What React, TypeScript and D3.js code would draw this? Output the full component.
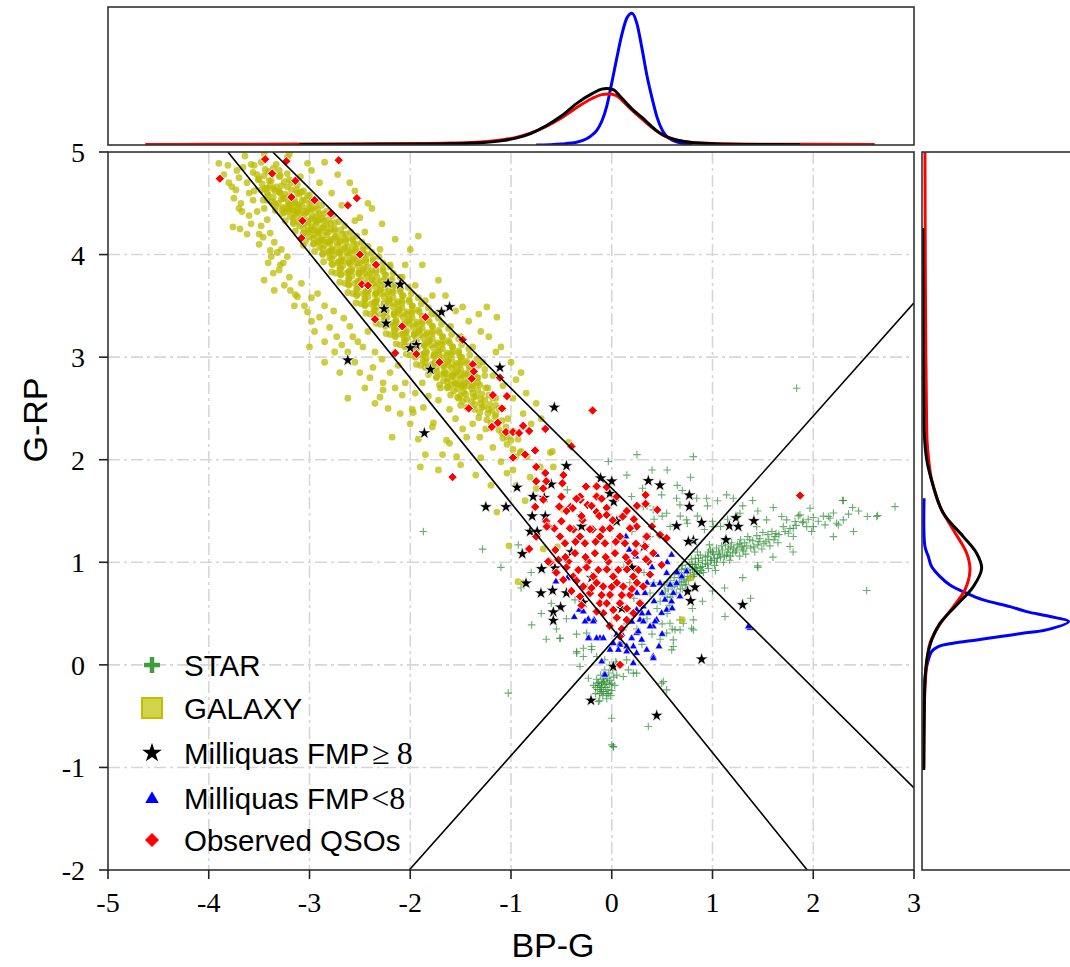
import React from 'react';
import * as d3 from 'd3';

const W = 1070;
const H = 967;

// ---------- axes ----------
const xTicks = [-5, -4, -3, -2, -1, 0, 1, 2, 3];
const yTicks = [-2, -1, 0, 1, 2, 3, 4, 5];
const xLabel = 'BP-G';
const yLabel = 'G-RP';

// ---------- selection lines (endpoints in data units) ----------
const cutLines = [
  [[-3.81, 5], [1.94, -2]],
  [[-3.365, 5], [3, -1.2]],
  [[-2.01, -2], [3, 3.53]],
];

// ---------- GALAXY (x,y pairs) ----------
const galaxyCore = [
  -3.55,4.87,-3.44,4.83,-3.33,4.88,-3.48,4.9,-3.30,4.82,
  -3.52,4.78,-3.41,4.81,-3.29,4.77,-3.36,4.84,-3.22,4.79,
  -3.5,4.74,-3.4,4.72,-3.3,4.76,-3.2,4.73,-3.45,4.77,-3.25,4.71,
  -3.47,4.69,-3.38,4.72,-3.28,4.67,-3.18,4.7,-3.33,4.66,-3.12,4.68,-3.42,4.65,
  -3.44,4.64,-3.34,4.62,-3.22,4.66,-3.13,4.63,-3.29,4.6,-3.39,4.67,-3.08,4.61,
  -3.41,4.58,-3.3,4.61,-3.2,4.57,-3.1,4.59,-3.25,4.55,-3.36,4.56,-3.02,4.57,-3.15,4.54,
  -3.37,4.52,-3.26,4.55,-3.15,4.51,-3.05,4.53,-3.2,4.49,-3.31,4.5,-2.98,4.52,-3.1,4.48,
  -3.33,4.47,-3.22,4.46,-3.12,4.49,-3.01,4.45,-3.16,4.43,-3.27,4.44,-2.94,4.47,-3.06,4.42,-3.19,4.5,
  -3.25,4.41,-3.14,4.39,-3.03,4.41,-2.93,4.38,-3.08,4.36,-3.19,4.37,-2.86,4.4,-2.98,4.35,-3.11,4.42,-2.9,4.34,
  -3.16,4.32,-3.05,4.3,-2.94,4.33,-2.83,4.29,-2.98,4.27,-3.1,4.28,-2.75,4.31,-2.88,4.26,-3.01,4.24,-2.79,4.25,-2.92,4.22,
  -3.06,4.21,-2.95,4.19,-2.84,4.22,-2.73,4.18,-2.89,4.16,-3.0,4.17,-2.64,4.2,-2.78,4.15,-2.91,4.13,-2.69,4.14,-2.82,4.12,-2.58,4.16,
  -2.96,4.11,-2.85,4.09,-2.73,4.12,-2.62,4.08,-2.78,4.06,-2.9,4.07,-2.53,4.1,-2.67,4.05,-2.81,4.03,-2.58,4.04,-2.71,4.02,-2.47,4.06,
  -2.87,4.01,-2.76,3.99,-2.63,4.02,-2.52,3.98,-2.68,3.96,-2.8,3.97,-2.43,4.0,-2.57,3.95,-2.71,3.93,-2.48,3.94,-2.61,3.92,-2.37,3.96,
  -2.78,3.91,-2.67,3.89,-2.54,3.92,-2.42,3.88,-2.58,3.86,-2.7,3.87,-2.33,3.9,-2.47,3.85,-2.61,3.83,-2.38,3.84,-2.51,3.82,-2.27,3.86,-2.74,3.82,
  -2.69,3.81,-2.58,3.79,-2.45,3.82,-2.33,3.78,-2.49,3.76,-2.61,3.77,-2.24,3.8,-2.38,3.75,-2.52,3.73,-2.29,3.74,-2.42,3.72,-2.18,3.76,-2.65,3.72,
  -2.61,3.71,-2.5,3.69,-2.37,3.72,-2.25,3.68,-2.41,3.66,-2.53,3.67,-2.16,3.7,-2.3,3.65,-2.44,3.63,-2.21,3.64,-2.34,3.62,-2.1,3.66,-2.57,3.62,
  -2.53,3.61,-2.42,3.59,-2.29,3.62,-2.17,3.58,-2.33,3.56,-2.45,3.57,-2.07,3.6,-2.21,3.55,-2.36,3.53,-2.12,3.54,-2.25,3.52,-2.01,3.56,-2.49,3.52,
  -2.45,3.51,-2.33,3.49,-2.2,3.52,-2.08,3.48,-2.24,3.46,-2.36,3.47,-1.98,3.5,-2.12,3.45,-2.27,3.43,-2.03,3.44,-2.16,3.42,-1.92,3.46,-2.4,3.42,
  -2.35,3.41,-2.23,3.39,-2.1,3.42,-1.98,3.38,-2.14,3.36,-2.26,3.37,-1.88,3.4,-2.02,3.35,-2.17,3.33,-1.93,3.34,-2.06,3.32,-1.82,3.36,-2.3,3.32,
  -2.25,3.31,-2.13,3.29,-2.0,3.32,-1.88,3.28,-2.04,3.26,-2.16,3.27,-1.78,3.3,-1.92,3.25,-2.07,3.23,-1.83,3.24,-1.96,3.22,-1.72,3.26,-2.2,3.22,
  -2.15,3.21,-2.03,3.19,-1.9,3.22,-1.78,3.18,-1.94,3.16,-2.06,3.17,-1.68,3.2,-1.82,3.15,-1.97,3.13,-1.73,3.14,-1.86,3.12,-1.62,3.16,-2.1,3.12,
  -2.05,3.11,-1.93,3.09,-1.8,3.12,-1.68,3.08,-1.84,3.06,-1.96,3.07,-1.58,3.1,-1.72,3.05,-1.87,3.03,-1.63,3.04,-1.76,3.02,-1.52,3.06,-2.0,3.02,
  -1.95,3.01,-1.84,2.99,-1.71,3.02,-1.59,2.98,-1.75,2.96,-1.87,2.97,-1.49,3.0,-1.63,2.95,-1.78,2.93,-1.54,2.94,-1.67,2.92,-1.44,2.96,-1.9,2.92,
  -1.85,2.91,-1.74,2.89,-1.62,2.92,-1.5,2.88,-1.66,2.86,-1.78,2.87,-1.41,2.9,-1.55,2.85,-1.69,2.83,-1.46,2.84,-1.58,2.82,-1.36,2.86,
  -1.74,2.81,-1.63,2.79,-1.52,2.82,-1.41,2.78,-1.56,2.76,-1.67,2.77,-1.33,2.8,-1.46,2.75,-1.59,2.73,-1.37,2.74,-1.49,2.72,
  -1.63,2.71,-1.53,2.69,-1.43,2.72,-1.33,2.68,-1.47,2.66,-1.57,2.67,-1.25,2.7,-1.38,2.65,-1.5,2.63,-1.29,2.64,
  -1.53,2.61,-1.44,2.59,-1.35,2.62,-1.26,2.58,-1.39,2.56,-1.48,2.57,-1.18,2.6,-1.3,2.55,-1.21,2.54,
  -1.44,2.51,-1.36,2.49,-1.27,2.52,-1.19,2.48,-1.31,2.46,-1.12,2.5,-1.23,2.45,-1.15,2.44,
  -1.32,2.41,-1.24,2.39,-1.16,2.42,-1.09,2.38,-1.2,2.36,-1.03,2.4,-1.13,2.35,
  -1.2,2.31,-1.12,2.29,-1.05,2.32,-0.98,2.28,-1.09,2.26,
  -1.08,2.21,-1.0,2.19,-0.93,2.2,-1.04,2.15,
  -0.98,2.1,-0.9,2.08,-0.95,2.03,
];
const galaxyCoreFill = [
  -3.26,4.46,-3.17,4.44,-3.07,4.47,-2.98,4.45,-3.12,4.43,-3.03,4.42,-2.92,4.44,-3.21,4.42,
  -3.16,4.36,-3.07,4.34,-2.97,4.37,-2.87,4.35,-3.02,4.33,-2.92,4.32,-2.81,4.34,-3.11,4.32,
  -3.06,4.26,-2.96,4.24,-2.86,4.27,-2.75,4.25,-2.91,4.23,-2.81,4.22,-2.69,4.24,-3.01,4.22,
  -2.96,4.16,-2.86,4.14,-2.75,4.17,-2.64,4.15,-2.8,4.13,-2.7,4.12,-2.57,4.14,-2.91,4.12,
  -2.87,4.06,-2.76,4.04,-2.65,4.07,-2.54,4.05,-2.7,4.03,-2.6,4.02,-2.47,4.04,-2.81,4.02,
  -2.78,3.96,-2.67,3.94,-2.56,3.97,-2.44,3.95,-2.61,3.93,-2.5,3.92,-2.37,3.94,-2.72,3.92,
  -2.69,3.86,-2.58,3.84,-2.46,3.87,-2.34,3.85,-2.51,3.83,-2.4,3.82,-2.27,3.84,-2.63,3.82,
  -2.61,3.76,-2.5,3.74,-2.38,3.77,-2.26,3.75,-2.43,3.73,-2.32,3.72,-2.19,3.74,-2.55,3.72,
  -2.53,3.66,-2.42,3.64,-2.29,3.67,-2.17,3.65,-2.34,3.63,-2.23,3.62,-2.1,3.64,-2.47,3.62,
  -2.45,3.56,-2.34,3.54,-2.21,3.57,-2.08,3.55,-2.26,3.53,-2.14,3.52,-2.01,3.54,-2.39,3.52,
  -2.35,3.46,-2.24,3.44,-2.11,3.47,-1.98,3.45,-2.16,3.43,-2.04,3.42,-1.91,3.44,-2.29,3.42,
  -2.25,3.36,-2.14,3.34,-2.01,3.37,-1.88,3.35,-2.06,3.33,-1.94,3.32,-1.81,3.34,-2.19,3.32,
  -2.15,3.26,-2.04,3.24,-1.91,3.27,-1.78,3.25,-1.96,3.23,-1.84,3.22,-1.71,3.24,-2.09,3.22,
  -2.05,3.16,-1.94,3.14,-1.81,3.17,-1.68,3.15,-1.86,3.13,-1.74,3.12,-1.61,3.14,-1.99,3.12,
  -1.95,3.06,-1.84,3.04,-1.71,3.07,-1.58,3.05,-1.76,3.03,-1.64,3.02,-1.52,3.04,-1.89,3.02,
  -1.85,2.96,-1.74,2.94,-1.62,2.97,-1.5,2.95,-1.67,2.93,-1.56,2.92,-1.44,2.94,-1.8,2.92,
  -1.74,2.86,-1.64,2.84,-1.53,2.87,-1.42,2.85,-1.58,2.83,-1.47,2.82,-1.37,2.84,
  -1.63,2.76,-1.53,2.74,-1.43,2.77,-1.33,2.75,-1.48,2.73,-1.38,2.72,
];
const galaxyCoreFill2 = [
  -3.48,4.63,-3.42,4.6,-3.36,4.64,-3.3,4.61,-3.24,4.59,-3.18,4.63,-3.12,4.6,-3.06,4.62,-3.0,4.58,
  -3.42,4.53,-3.35,4.5,-3.28,4.54,-3.21,4.51,-3.14,4.49,-3.07,4.53,-3.0,4.5,-2.93,4.52,-2.88,4.48,
  -3.34,4.43,-3.27,4.4,-3.2,4.44,-3.12,4.41,-3.05,4.39,-2.98,4.43,-2.9,4.4,-2.83,4.42,-2.77,4.38,
  -3.24,4.33,-3.16,4.3,-3.09,4.34,-3.01,4.31,-2.94,4.29,-2.86,4.33,-2.79,4.3,-2.71,4.32,-2.65,4.28,
  -3.14,4.23,-3.06,4.2,-2.98,4.24,-2.9,4.21,-2.83,4.19,-2.75,4.23,-2.67,4.2,-2.59,4.22,-2.53,4.18,
  -3.04,4.13,-2.96,4.1,-2.88,4.14,-2.8,4.11,-2.72,4.09,-2.64,4.13,-2.56,4.1,-2.48,4.12,-2.42,4.08,
  -2.95,4.03,-2.87,4.0,-2.78,4.04,-2.7,4.01,-2.62,3.99,-2.54,4.03,-2.46,4.0,-2.38,4.02,-2.31,3.98,
  -2.86,3.93,-2.77,3.9,-2.69,3.94,-2.6,3.91,-2.52,3.89,-2.44,3.93,-2.35,3.9,-2.27,3.92,-2.2,3.88,
  -2.78,3.83,-2.69,3.8,-2.6,3.84,-2.51,3.81,-2.43,3.79,-2.34,3.83,-2.25,3.8,-2.17,3.82,-2.1,3.78,
  -2.7,3.73,-2.61,3.7,-2.52,3.74,-2.43,3.71,-2.35,3.69,-2.26,3.73,-2.17,3.7,-2.09,3.72,-2.02,3.68,
  -2.62,3.63,-2.53,3.6,-2.44,3.64,-2.35,3.61,-2.26,3.59,-2.17,3.63,-2.08,3.6,-1.99,3.62,-1.92,3.58,
  -2.54,3.53,-2.45,3.5,-2.35,3.54,-2.26,3.51,-2.17,3.49,-2.08,3.53,-1.98,3.5,-1.89,3.52,-1.82,3.48,
  -2.44,3.43,-2.35,3.4,-2.25,3.44,-2.16,3.41,-2.07,3.39,-1.98,3.43,-1.88,3.4,-1.79,3.42,-1.72,3.38,
  -2.34,3.33,-2.25,3.3,-2.15,3.34,-2.06,3.31,-1.97,3.29,-1.88,3.33,-1.78,3.3,-1.69,3.32,-1.62,3.28,
  -2.24,3.23,-2.15,3.2,-2.05,3.24,-1.96,3.21,-1.87,3.19,-1.78,3.23,-1.68,3.2,-1.59,3.22,-1.52,3.18,
  -2.14,3.13,-2.05,3.1,-1.95,3.14,-1.86,3.11,-1.77,3.09,-1.68,3.13,-1.58,3.1,-1.49,3.12,-1.42,3.08,
  -2.04,3.03,-1.95,3.0,-1.86,3.04,-1.77,3.01,-1.68,2.99,-1.59,3.03,-1.5,3.0,-1.41,3.02,-1.34,2.98,
  -1.94,2.93,-1.85,2.9,-1.76,2.94,-1.67,2.91,-1.59,2.89,-1.5,2.93,-1.41,2.9,-1.32,2.92,-1.26,2.88,
  -1.82,2.83,-1.74,2.8,-1.66,2.84,-1.58,2.81,-1.5,2.79,-1.42,2.83,-1.34,2.8,-1.26,2.82,
  -1.71,2.73,-1.63,2.7,-1.55,2.74,-1.47,2.71,-1.39,2.69,-1.31,2.73,-1.23,2.7,
  -1.6,2.63,-1.52,2.6,-1.45,2.64,-1.37,2.61,-1.3,2.59,-1.22,2.63,-1.15,2.6,
  -1.5,2.53,-1.43,2.5,-1.36,2.54,-1.29,2.51,-1.22,2.49,-1.15,2.53,-1.08,2.5,
];
const galaxyHalo = [
  -3.9,4.89,-3.81,4.87,-3.77,4.66,-3.73,4.63,-3.7,4.45,-3.67,4.42,-3.76,4.27,-3.69,4.25,-3.64,4.96,-3.56,4.8,
  -3.51,4.73,-3.46,4.53,-3.42,4.34,-3.39,4.21,-3.32,4.02,-3.26,3.92,-3.14,3.61,-3.06,4.09,-3.56,4.53,-3.46,4.17,
  -3.39,4.04,-3.41,3.92,-3.29,3.9,-3.19,3.65,-3.12,3.59,-3.02,3.44,-2.9,3.39,-2.8,3.29,-2.73,3.2,-2.57,3.2,
  -2.47,3.1,-2.37,2.9,-2.27,2.75,-2.3,2.61,-2.18,2.22,-2.08,2.63,-1.98,2.49,-1.87,2.51,-1.77,2.36,-1.61,2.16,
  -1.44,2.22,-1.24,3.49,-1.14,3.39,-1.48,3.49,-1.92,4.18,-2.38,4.45,-2.5,4.36,-3.02,4.89,-3.22,4.95,-3.09,4.76,
  -2.27,2.68,-1.97,2.46,-1.9,1.93,-1.72,1.9,-1.78,2.32,-1.61,2.49,-1.64,2.19,-1.54,2.03,-1.31,2.22,-1.18,2.12,
  -1.04,2.22,-0.91,2.07,-0.84,2.03,-0.71,1.93,-0.61,2.07,-0.58,1.93,-1.14,1.49,-1.04,1.87,-0.81,1.83,
  -1.02,1.16,-0.93,0.81,-0.88,0.8,-0.68,1.13,-0.54,1.15,-0.48,1.51,-0.43,2.17,-0.59,2.08,0.7,0.44,0.78,0.85,
  -3.6,4.6,-3.52,4.42,-3.58,4.3,-3.48,4.28,-3.35,4.12,-3.5,4.1,-3.28,4.05,-3.22,3.98,-3.36,3.82,-3.2,3.78,
  -3.08,3.72,-3.15,3.5,-2.98,3.58,-2.92,3.62,-2.85,3.5,-2.76,3.45,-2.66,3.38,-2.95,3.25,-2.68,3.12,-2.6,3.3,
  -2.52,3.15,-2.42,3.25,-2.35,3.05,-2.55,2.95,-2.28,2.98,-2.2,2.85,-2.12,2.92,-2.05,2.75,-2.15,2.7,-1.95,2.65,
  -1.88,2.75,-1.82,2.62,-1.72,2.58,-1.7,2.7,-2.4,2.8,-2.1,2.45,-1.55,2.4,-1.48,2.3,-1.38,2.35,-1.25,2.3,
  -1.3,2.02,-1.1,1.98,-0.98,1.9,-0.95,1.75,-0.86,1.6,-0.75,1.72,-3.7,4.75,-3.66,4.85,-3.45,4.98,-3.75,4.55,-3.62,4.2,
  -3.2,4.98,-2.98,4.82,-2.9,4.7,-2.78,4.6,-2.68,4.48,-2.55,4.33,-2.45,4.22,-2.3,4.05,-2.2,3.9,-2.08,3.78,
  -1.95,3.7,-1.85,3.55,-1.75,3.42,-1.6,3.3,-1.5,3.2,-1.38,3.1,-1.28,2.95,-1.18,2.82,-1.08,2.72,-0.98,2.6,
  -0.88,2.45,-0.8,2.35,-2.05,3.9,-1.78,3.6,-1.3,3.25,-1.15,3.05,-0.95,2.78,-2.6,4.7,-2.85,4.9,
  -3.85,4.78,-3.8,4.7,-3.72,4.82,-3.62,4.7,-3.58,4.88,-3.68,4.5,-3.6,4.38,-3.55,4.62,-3.5,4.2,-3.45,4.45,
  -3.38,3.98,-3.3,3.85,-3.25,3.7,-3.05,3.5,-2.98,3.35,-2.85,3.15,-2.75,3.05,-2.62,3.05,-2.5,2.85,-2.45,2.7,
  -2.35,2.55,-2.22,2.5,-2.0,2.35,-1.92,2.2,-1.85,2.05,-1.68,2.05,-1.5,1.95,-1.35,1.85,-1.2,1.75,-2.72,4.78,
  -2.55,4.62,-2.42,4.5,-2.28,4.3,-2.15,4.15,-2.0,4.05,-1.88,3.9,-1.72,3.75,-1.65,3.6,-1.55,3.45,-1.42,3.35,
  -1.32,3.42,-1.22,3.2,-1.1,3.1,-1.0,2.95,-0.9,2.85,-0.85,2.65,-0.75,2.55,-0.7,2.4,-2.62,2.6,-2.7,2.85,
  -2.85,2.95,-3.0,3.1,-3.35,3.65,-3.45,3.75,
];

// ---------- STAR (x,y pairs) ----------
const starBranch = [
  0.48,0.62,0.5,0.7,0.52,0.78,0.55,0.66,0.56,0.74,0.58,0.82,0.6,0.69,0.57,0.58,0.62,0.77,
  0.64,0.8,0.66,0.88,0.68,0.74,0.69,0.93,0.71,0.83,0.72,0.9,0.74,0.78,0.7,0.97,0.75,0.86,0.67,0.81,0.73,0.94,
  0.78,0.9,0.8,0.98,0.81,0.86,0.83,1.04,0.84,0.94,0.86,1.0,0.87,0.89,0.88,1.07,0.9,0.96,0.82,0.95,0.85,1.1,0.89,0.92,0.79,1.03,
  0.93,0.99,0.95,1.06,0.96,0.94,0.98,1.12,0.99,1.02,1.01,1.08,1.02,0.97,1.04,1.14,1.05,1.04,0.97,1.17,1.03,0.92,1.06,1.1,
  1.08,1.05,1.1,1.12,1.11,1.0,1.13,1.17,1.14,1.07,1.16,1.13,1.17,1.02,1.19,1.19,1.2,1.09,1.12,1.22,1.18,1.15,
  1.23,1.1,1.25,1.17,1.27,1.06,1.28,1.22,1.3,1.13,1.32,1.19,1.33,1.08,1.35,1.25,1.29,1.15,
  1.38,1.14,1.4,1.21,1.42,1.1,1.44,1.26,1.45,1.17,1.47,1.23,1.49,1.13,1.5,1.29,
  1.53,1.2,1.55,1.27,1.57,1.16,1.59,1.3,1.61,1.22,1.63,1.28,1.65,1.19,
  2.299,1.602,2.391,1.534,2.811,1.543,2.537,1.446,2.639,1.456,2.299,1.413,2.166,1.43,2.117,1.365,2.249,1.365,2.001,1.436,
  1.968,1.527,1.868,1.462,2.001,1.348,1.935,1.348,1.984,1.3,1.852,1.452,1.895,1.387,1.802,1.332,1.736,1.413,1.687,1.446,
  1.703,1.348,1.753,1.283,1.802,1.251,1.769,1.154,
];
const starBranch2 = [
  0.53,0.72,0.55,0.8,0.58,0.66,0.6,0.76,0.62,0.85,0.64,0.7,0.65,0.78,0.67,0.9,0.69,0.8,0.7,0.74,
  0.72,0.84,0.73,0.78,0.75,0.92,0.76,0.82,0.77,0.98,0.78,0.86,0.8,0.93,0.82,0.88,0.83,0.98,0.85,0.91,
  0.86,1.04,0.88,0.95,0.9,1.02,0.91,0.9,0.93,1.05,0.95,0.98,0.96,1.1,0.98,1.02,1.0,1.1,1.02,1.04,
  1.04,1.0,1.07,1.08,1.09,1.16,1.12,1.06,1.15,1.1,1.18,1.06,1.21,1.14,1.24,1.12,1.27,1.18,1.31,1.11,
  1.34,1.16,1.37,1.22,1.41,1.15,1.46,1.2,1.51,1.18,1.56,1.22,1.62,1.25,1.66,1.27,1.72,1.3,1.77,1.33,
  1.83,1.36,1.9,1.4,1.95,1.42,2.05,1.4,2.1,1.45,2.2,1.48,2.35,1.47,2.45,1.5,
];
const starScatter = [
  2.53,0.725,1.835,2.697,-0.034,1.982,0.81,2.03,0.783,1.829,0.197,1.641,0.306,1.722,0.495,1.657,0.644,1.625,0.677,1.56,
  0.843,1.625,0.942,1.625,1.14,1.657,1.206,1.625,1.398,1.602,1.603,1.534,2.292,1.602,2.63,1.446,2.15,1.446,2.232,1.381,
  1.819,1.397,0.313,1.543,0.412,1.511,0.545,1.478,0.743,1.413,1.008,1.348,1.272,1.478,1.438,1.348,1.537,1.413,1.448,0.965,
  1.378,0.65,1.124,0.471,0.81,0.341,0.677,0.439,0.578,0.406,0.81,0.439,0.545,0.309,0.611,0.179,0.495,-0.179,0.363,-0.601,
  0.015,-0.8,-0.315,-0.016,-0.514,0.26,-0.795,0.39,-1.027,-0.276,-1.282,1.128,-0.928,1.17,-0.441,1.706,-0.315,1.462,-0.243,0.764,
  -0.365,0.634,-0.249,0.309,-0.348,0.114,-0.15,0.081,0.214,-0.081,-1.87,1.3,0.0,-0.78,
  0.3,0.6,0.35,0.45,0.4,0.3,0.45,0.55,0.5,0.4,0.25,0.35,0.38,0.7,0.55,0.5,0.2,0.5,0.15,0.4,
  0.48,0.25,0.3,0.2,0.22,0.65,0.6,0.35,0.1,0.6,0.05,0.45,0.42,0.8,0.32,0.9,0.18,0.8,0.12,0.95,
  0.25,1.1,0.38,1.25,0.2,1.3,0.1,1.2,-0.6,0.6,-0.7,0.5,-0.45,0.45,-0.55,0.35,-0.35,0.3,-0.2,0.15,
  -0.9,0.75,-0.8,0.9,-1.1,0.95,-0.65,0.25,
  0.35,1.55,0.15,1.85,0.4,1.9,0.25,2.05,0.55,1.9,0.65,1.75,0.5,1.45,0.58,1.35,0.42,1.42,0.68,1.45,
  0.75,1.38,0.85,1.45,0.92,1.32,1.0,1.4,1.08,1.35,1.15,1.42,1.25,1.45,0.95,1.55,1.05,1.6,0.7,1.7,
  1.3,1.55,1.45,1.5,1.12,0.75,1.3,0.85,1.45,0.95,1.0,0.72,0.9,0.62,0.8,0.55,1.6,1.05,1.8,1.1,2.2,1.25,2.4,1.3,
];
const starKnot = [
  -0.15,-0.14,-0.12,-0.2,-0.1,-0.26,-0.08,-0.16,-0.06,-0.22,-0.04,-0.13,-0.02,-0.19,0.0,-0.25,-0.14,-0.24,-0.09,-0.3,
  -0.05,-0.28,-0.11,-0.1,-0.07,-0.05,-0.03,-0.08,0.02,-0.12,-0.13,-0.17,-0.1,-0.22,-0.16,-0.28,-0.01,-0.3,0.03,-0.2,
  -0.18,-0.2,-0.08,-0.12,-0.05,-0.33,-0.12,-0.35,0.01,-0.05,0.05,-0.1,-0.02,0.0,0.04,0.03,-0.07,0.05,
  -0.14,-0.18,-0.11,-0.24,-0.07,-0.19,-0.04,-0.24,-0.09,-0.14,-0.06,-0.1,-0.12,-0.28,-0.02,-0.15,-0.16,-0.22,-0.08,-0.26,
  -0.03,-0.28,0.0,-0.18,-0.1,-0.18,-0.05,-0.17,
  -0.513,0.26,-0.348,0.13,-0.282,0.081,-0.232,-0.13,-0.001,-0.52,0.016,-0.796,0.512,-0.163,0.545,-0.244,0.611,0.244,0.628,0.341,
  0.595,0.146,0.247,-0.081,0.115,-0.114,0.165,-0.049,-0.282,0.162,-0.199,0.179,0.148,0.049,0.049,0.016,0.115,0.341,0.793,0.357,
  0.678,0.341,0.71,0.406,-0.133,-0.357,
];

// ---------- Milliquas FMP >= 8 (x,y pairs) ----------
const milliquasHigh = [
  -2.22,3.72,-2.1,3.71,-2.26,3.47,-2.24,3.33,-1.69,3.44,-1.61,3.49,-1.94,3.12,-2.0,3.09,-1.8,2.88,-2.62,2.97,
  -1.11,2.9,-1.86,2.26,-0.57,2.51,-0.45,1.94,-0.6,1.76,-0.94,1.73,-1.25,1.54,-1.05,1.54,-0.79,1.45,-0.66,1.45,
  -0.78,1.64,-0.67,1.63,-0.11,1.82,0.0,1.79,-0.02,1.67,0.02,1.59,-0.81,1.3,-0.74,1.3,0.363,1.794,0.479,1.751,
  -0.888,1.082,-0.696,0.936,-0.564,0.942,-0.851,0.796,-0.703,0.699,-0.587,0.725,-0.507,0.562,-0.58,0.514,-0.58,0.432,-0.282,0.608,
  0.77,1.654,0.77,1.543,0.892,1.387,0.644,1.355,0.81,1.212,0.76,1.202,1.134,1.219,1.233,1.433,1.411,1.404,1.167,1.355,
  1.256,1.348,0.32,1.154,0.753,0.715,0.826,0.757,0.783,0.624,1.299,0.585,0.892,0.055,0.446,-0.494,-0.206,-0.347,0.015,-0.016,
  -0.4,1.1,-0.2,0.85,0.05,1.4,-0.3,1.35,0.2,0.95,-0.45,0.7,0.1,0.55,
];

// ---------- Milliquas FMP < 8 (x,y pairs) ----------
const milliquasLow = [
  -0.554,0.812,-0.441,0.845,-0.322,0.536,-0.372,0.465,-0.282,0.52,-0.233,0.445,-0.176,0.439,-0.223,0.26,-0.117,0.26,-0.077,-0.097,
  0.082,0.211,0.141,1.251,0.174,1.121,0.24,1.056,0.445,1.072,0.594,1.072,0.545,0.894,0.694,0.861,0.644,0.796,0.743,0.91,
  0.33,0.699,0.412,0.78,0.479,0.796,0.313,0.569,0.363,0.504,0.247,0.536,0.28,0.439,0.412,0.374,0.445,0.439,0.247,0.309,
  0.214,0.179,0.297,0.244,0.015,0.211,0.148,0.179,0.412,0.082,0.469,0.179,0.528,0.634,0.594,0.618,0.545,0.536,0.611,0.699,
  0.677,0.666,0.495,0.504,1.372,0.358,
  -0.232,0.26,-0.15,0.26,-0.083,0.26,0.049,0.293,0.082,0.195,0.198,0.26,0.264,0.325,0.314,0.422,0.38,0.374,0.43,0.422,
  -0.017,0.146,0.066,0.146,0.148,0.13,0.247,0.114,0.347,0.146,0.413,0.065,0.214,0.016,-0.1,0.032,-0.067,-0.097,-0.265,0.422,
  -0.183,0.422,1.356,0.374,
  0.35,0.8,0.42,0.62,0.3,0.5,0.2,0.42,0.5,0.7,0.6,0.55,0.65,0.9,0.55,1.0,0.4,0.95,0.25,0.7,0.1,0.3,0.5,0.3,0.58,0.78,
];

// ---------- Observed QSOs (x,y pairs) ----------
const qsoBand = [
  -3.89,4.74,-3.44,4.93,-3.37,4.79,-3.23,4.91,-3.14,4.72,-3.18,4.56,-3.07,4.33,-2.95,4.53,-2.79,4.4,-2.71,4.92,
  -2.62,4.48,-2.53,4.55,-3.08,4.16,-2.5,4.0,-2.34,3.9,-2.48,3.71,-2.42,3.7,-1.85,3.39,-2.08,3.3,-2.35,3.37,
  -2.15,3.04,-1.94,3.03,-1.71,2.95,-1.48,3.17,-1.38,2.93,-1.37,2.86,-1.39,2.79,-1.18,2.63,-1.04,2.62,-1.09,2.5,
  -1.42,2.5,-1.13,2.36,-1.19,2.32,-1.05,2.27,-0.98,2.27,-0.92,2.26,-0.88,2.33,-1.11,2.8,-1.58,1.83,-0.19,2.48,
  -0.4,2.13,1.87,1.65,
];
const qsoCluster = [
  -0.86,2.05,-0.76,2.09,-0.75,1.93,-0.66,1.87,-0.65,1.79,-0.75,1.79,-0.48,1.85,-0.49,1.77,-0.68,1.72,-0.5,1.64,
  -0.25,1.74,-0.15,1.74,-0.76,1.54,-0.68,1.61,-0.53,1.54,-0.41,1.54,-0.31,1.61,-0.24,1.56,-0.15,1.49,-0.05,1.53,
  0.01,1.41,-0.65,1.4,-0.57,1.33,-0.5,1.4,-0.38,1.32,-0.29,1.41,-0.19,1.32,-0.09,1.32,-0.75,1.25,-0.82,1.13,
  -0.63,1.35,-0.61,1.0,-0.82,2.28,-0.66,2.3,-0.98,2.02,
  -0.256,1.738,-0.15,1.641,-0.051,1.732,0.049,1.641,0.336,1.657,-0.52,1.543,-0.388,1.527,-0.315,1.641,-0.124,1.452,-0.051,1.462,
  0.108,1.446,0.247,1.348,0.336,1.57,0.452,1.511,-0.646,1.348,-0.514,1.251,-0.415,1.332,-0.315,1.251,-0.216,1.322,-0.117,1.251,
  -0.018,1.332,0.082,1.251,0.181,1.332,0.346,1.251,0.479,1.267,0.545,1.235,-0.464,1.186,-0.365,1.089,-0.266,1.186,-0.167,1.089,
  -0.067,1.186,0.032,1.089,0.131,1.186,0.23,1.089,0.33,1.154,0.412,1.089,-0.63,1.007,-0.53,1.024,-0.431,1.007,-0.332,0.926,
  -0.233,1.007,-0.133,0.926,-0.034,1.007,0.065,0.926,0.164,1.007,0.264,0.926,0.363,1.007,0.495,0.975,-0.481,0.829,-0.382,0.861,
  -0.282,0.764,-0.183,0.861,-0.084,0.764,0.015,0.861,0.115,0.764,0.214,0.861,0.313,0.764,-0.315,0.666,-0.216,0.699,-0.117,0.601,
  -0.018,0.682,0.082,0.601,0.181,0.682,0.28,0.601,-0.084,0.504,0.015,0.536,0.148,0.439,0.214,0.504,0.082,0.276,0.082,0.0,
  -0.56,1.12,-0.46,1.05,-0.36,1.2,-0.26,1.05,-0.16,1.2,-0.06,1.05,0.04,1.2,0.14,1.05,0.24,1.18,0.34,1.03,
  -0.55,0.9,-0.45,0.95,-0.35,0.82,-0.25,0.95,-0.15,0.8,-0.05,0.93,0.05,0.8,0.15,0.93,0.25,0.8,0.38,0.88,
  -0.4,0.72,-0.3,0.58,-0.2,0.75,-0.1,0.68,0.0,0.76,0.1,0.68,0.2,0.74,-0.15,0.52,-0.05,0.6,0.05,0.46,
  0.15,0.55,-0.02,0.38,0.1,0.35,-0.3,1.45,-0.2,1.55,-0.1,1.62,0.15,1.5,0.25,1.55,0.22,1.42,0.4,1.35,
  -0.45,1.5,-0.35,1.62,
];

// ---------- marginal densities ----------
// top panel: [BP-G, relative density]
const topBlue = [[-0.75,0],[-0.5,0.008],[-0.35,0.02],[-0.25,0.045],[-0.2,0.07],[-0.15,0.105],[-0.1,0.17],[-0.05,0.28],[0,0.45],[0.05,0.63],[0.1,0.8],[0.15,0.92],[0.2,0.955],[0.25,0.88],[0.3,0.7],[0.35,0.5],[0.4,0.34],[0.45,0.2],[0.5,0.11],[0.55,0.06],[0.6,0.035],[0.7,0.012],[0.8,0.002]];
const topBlack = [[-3.1,0.003],[-2.5,0.004],[-2.0,0.006],[-1.6,0.009],[-1.3,0.016],[-1.1,0.03],[-0.95,0.05],[-0.8,0.085],[-0.65,0.14],[-0.5,0.21],[-0.35,0.3],[-0.2,0.37],[-0.1,0.405],[-0.05,0.41],[0.02,0.4],[0.08,0.355],[0.15,0.3],[0.21,0.255],[0.3,0.2],[0.38,0.145],[0.46,0.095],[0.55,0.058],[0.65,0.035],[0.75,0.022],[0.9,0.012],[1.1,0.006],[1.4,0.004],[1.87,0.002]];
const topRed = [[-4.63,0.004],[-4.0,0.005],[-3.0,0.007],[-2.0,0.01],[-1.6,0.014],[-1.3,0.022],[-1.1,0.036],[-0.95,0.055],[-0.8,0.088],[-0.65,0.135],[-0.5,0.195],[-0.35,0.27],[-0.2,0.335],[-0.1,0.365],[-0.03,0.37],[0.04,0.36],[0.1,0.325],[0.17,0.275],[0.25,0.22],[0.33,0.17],[0.42,0.115],[0.5,0.075],[0.6,0.045],[0.7,0.028],[0.85,0.016],[1.1,0.009],[1.5,0.006],[2.0,0.005],[2.61,0.004]];
// right panel: [G-RP, relative density]
const rightBlue = [[1.624,0.014],[1.153,0.02],[1.055,0.043],[0.958,0.065],[0.86,0.122],[0.779,0.189],[0.698,0.302],[0.633,0.414],[0.568,0.595],[0.519,0.707],[0.471,0.865],[0.422,0.99],[0.341,0.84],[0.308,0.68],[0.276,0.53],[0.243,0.37],[0.211,0.21],[0.178,0.11],[0.13,0.065],[0.049,0.043],[-0.049,0.027],[-0.18,0.018]];
const rightBlack = [[4.26,0.005],[3.5,0.007],[3.0,0.009],[2.5,0.012],[2.29,0.014],[2.0,0.032],[1.74,0.077],[1.478,0.144],[1.25,0.279],[1.088,0.369],[0.942,0.403],[0.763,0.347],[0.584,0.234],[0.406,0.122],[0.243,0.065],[0.081,0.036],[-0.147,0.02],[-0.5,0.015],[-1.024,0.012]];
const rightRed = [[5.0,0.02],[4.0,0.022],[3.0,0.026],[2.5,0.03],[2.19,0.034],[2.0,0.045],[1.803,0.065],[1.543,0.122],[1.315,0.212],[1.088,0.302],[0.925,0.324],[0.73,0.29],[0.568,0.212],[0.373,0.11],[0.211,0.054],[0.016,0.032],[-0.3,0.018],[-1.0,0.012]];

// ---------- legend ----------
const legendItems = ['STAR', 'GALAXY', 'Milliquas FMP', 'Milliquas FMP', 'Observed QSOs'];

const pairs = (a: number[]) => {
  const r: [number, number][] = [];
  for (let i = 0; i + 1 < a.length; i += 2) r.push([a[i], a[i + 1]]);
  return r;
};

const SERIF = "'Liberation Serif','Times New Roman',Times,serif";
const SANS = "'Liberation Sans',Arial,Helvetica,sans-serif";

export default function App() {
  const L = 108, R = 914, T = 152, B = 870;
  const x = d3.scaleLinear().domain([-5, 3]).range([L, R]);
  const y = d3.scaleLinear().domain([-2, 5]).range([B, T]);
  const topH = d3.scaleLinear().domain([0, 1]).range([145, 7]);
  const rightW = d3.scaleLinear().domain([0, 1]).range([922, 1070]);

  const topLine = d3.line<number[]>().x(d => x(d[0])).y(d => topH(d[1])).curve(d3.curveMonotoneX);
  const rightLine = d3.line<number[]>().x(d => rightW(d[1])).y(d => y(d[0])).curve(d3.curveCatmullRom.alpha(0.5));

  const star = d3.symbol().type(d3.symbolStar).size(55)();
  const tri = d3.symbol().type(d3.symbolTriangle).size(25)();
  const legStar = d3.symbol().type(d3.symbolStar).size(120)();
  const legTri = d3.symbol().type(d3.symbolTriangle).size(80)();
  const diamond = 'M0,-4.7L4.7,0L0,4.7L-4.7,0Z';
  const legDiamond = 'M0,-7L7,0L0,7L-7,0Z';
  const plus = 'M-3.8,0H3.8M0,-3.8V3.8';

  const galaxies = [...pairs(galaxyHalo), ...pairs(galaxyCore), ...pairs(galaxyCoreFill), ...pairs(galaxyCoreFill2)];
  const stars = [...pairs(starScatter), ...pairs(starBranch), ...pairs(starBranch2), ...pairs(starKnot)];
  const high = pairs(milliquasHigh);
  const low = pairs(milliquasLow);
  const qsos = [...pairs(qsoBand), ...pairs(qsoCluster)];

  const grid = '12,4,3,4';
  const legY = [665, 708, 753, 798, 840];

  return (
    <svg width={W} height={H} style={{ position: 'absolute', left: 0, top: 0, background: '#fff' }}
      xmlns="http://www.w3.org/2000/svg">
      <defs>
        <clipPath id="main"><rect x={L} y={T} width={R - L} height={B - T} /></clipPath>
        <clipPath id="topc"><rect x={L} y={7} width={R - L} height={138} /></clipPath>
        <clipPath id="rightc"><rect x={922} y={T} width={200} height={B - T} /></clipPath>
      </defs>
      <rect x={0} y={0} width={W} height={H} fill="#fff" />

      {/* grid */}
      <g stroke="#d6d6d6" strokeWidth={1.6} strokeDasharray={grid}>
        {xTicks.slice(1, -1).map(t => <line key={'gx' + t} x1={x(t)} x2={x(t)} y1={T} y2={B} />)}
        {yTicks.slice(1, -1).map(t => <line key={'gy' + t} x1={L} x2={R} y1={y(t)} y2={y(t)} />)}
      </g>

      <g clipPath="url(#main)">
        {/* STAR */}
        <g stroke="#22882a" strokeOpacity={0.68} strokeWidth={1.1} fill="none">
          {stars.map((d, i) => <path key={'s' + i} d={plus} transform={`translate(${x(d[0])},${y(d[1])})`} />)}
        </g>
        {/* GALAXY */}
        <g fill="#bbbb00" fillOpacity={0.74}>
          {galaxies.map((d, i) => <circle key={'g' + i} cx={x(d[0])} cy={y(d[1])} r={3.4} />)}
        </g>
        {/* Milliquas >= 8 */}
        <g fill="#000" stroke="#fff" strokeWidth={0.7}>
          {high.map((d, i) => <path key={'h' + i} d={star} transform={`translate(${x(d[0])},${y(d[1])})`} />)}
        </g>
        {/* Milliquas < 8 */}
        <g fill="#0000ff" stroke="#fff" strokeWidth={0.5}>
          {low.map((d, i) => <path key={'l' + i} d={tri} transform={`translate(${x(d[0])},${y(d[1])})`} />)}
        </g>
        {/* Observed QSOs */}
        <g fill="#ff0000" stroke="#fff" strokeWidth={1}>
          {qsos.map((d, i) => <path key={'q' + i} d={diamond} transform={`translate(${x(d[0])},${y(d[1])})`} />)}
        </g>
        {/* cut lines */}
        <g stroke="#000" strokeWidth={1.6}>
          {cutLines.map((l, i) => <line key={'c' + i} x1={x(l[0][0])} y1={y(l[0][1])} x2={x(l[1][0])} y2={y(l[1][1])} />)}
        </g>
      </g>

      {/* main frame and ticks */}
      <rect x={L} y={T} width={R - L} height={B - T} fill="none" stroke="#333" strokeWidth={1.6} />
      <g stroke="#222" strokeWidth={1.6}>
        {xTicks.map(t => <line key={'tx' + t} x1={x(t)} x2={x(t)} y1={B} y2={B + 9} />)}
        {yTicks.map(t => <line key={'ty' + t} x1={L - 9} x2={L} y1={y(t)} y2={y(t)} />)}
      </g>
      <g fontFamily={SERIF} fontSize={28} fill="#000">
        {xTicks.map(t => <text key={'lx' + t} x={x(t)} y={912} textAnchor="middle">{String(t)}</text>)}
        {yTicks.map(t => <text key={'ly' + t} x={85} y={y(t) + 10} textAnchor="end">{String(t)}</text>)}
      </g>
      <text x={553} y={957} textAnchor="middle" fontFamily={SANS} fontSize={34}>{xLabel}</text>
      <text transform="translate(47,420) rotate(-90)" textAnchor="middle" fontFamily={SANS} fontSize={34}>{yLabel}</text>

      {/* legend */}
      <g>
        <path d="M-8,0H8M0,-8V8" transform={`translate(152,${legY[0]})`} stroke="#3f9f3f" strokeWidth={4.5} fill="none" />
        <rect x={142} y={legY[1] - 10} width={20} height={20} fill="#bfbf00" fillOpacity={0.7} stroke="#bfbf00" strokeWidth={2} />
        <path d={legStar} transform={`translate(152,${legY[2]})`} fill="#000" />
        <path d={legTri} transform={`translate(152,${legY[3] + 1})`} fill="#0000ff" />
        <path d={legDiamond} transform={`translate(152,${legY[4]})`} fill="#ff0000" />
        <g fontFamily={SANS} fontSize={29.5} fill="#000">
          <text x={184} y={legY[0] + 11}>{legendItems[0]}</text>
          <text x={184} y={legY[1] + 11}>{legendItems[1]}</text>
          <text x={184} y={legY[2] + 11}>{legendItems[2]}<tspan fontFamily={SERIF} fontSize={32} dx={3}>≥</tspan><tspan fontFamily={SERIF} fontSize={32} dx={7}>8</tspan></text>
          <text x={184} y={legY[3] + 11}>{legendItems[3]}<tspan fontFamily={SERIF} fontSize={32} dx={2}>&lt;8</tspan></text>
          <text x={184} y={legY[4] + 11}>{legendItems[4]}</text>
        </g>
      </g>

      {/* top marginal */}
      <g clipPath="url(#topc)" fill="none" strokeWidth={3}>
        <path d={topLine(topBlue) || ''} stroke="#0000ff" />
        <path d={topLine(topRed) || ''} stroke="#ff0000" />
        <path d={topLine(topBlack) || ''} stroke="#000" />
      </g>
      <rect x={L} y={7} width={R - L} height={138} fill="none" stroke="#333" strokeWidth={1.6} />

      {/* right marginal */}
      <g clipPath="url(#rightc)" fill="none" strokeWidth={3}>
        <path d={rightLine(rightBlue) || ''} stroke="#0000ff" />
        <path d={rightLine(rightRed) || ''} stroke="#ff0000" />
        <path d={rightLine(rightBlack) || ''} stroke="#000" />
      </g>
      <rect x={922} y={T} width={200} height={B - T} fill="none" stroke="#333" strokeWidth={1.6} />
    </svg>
  );
}
